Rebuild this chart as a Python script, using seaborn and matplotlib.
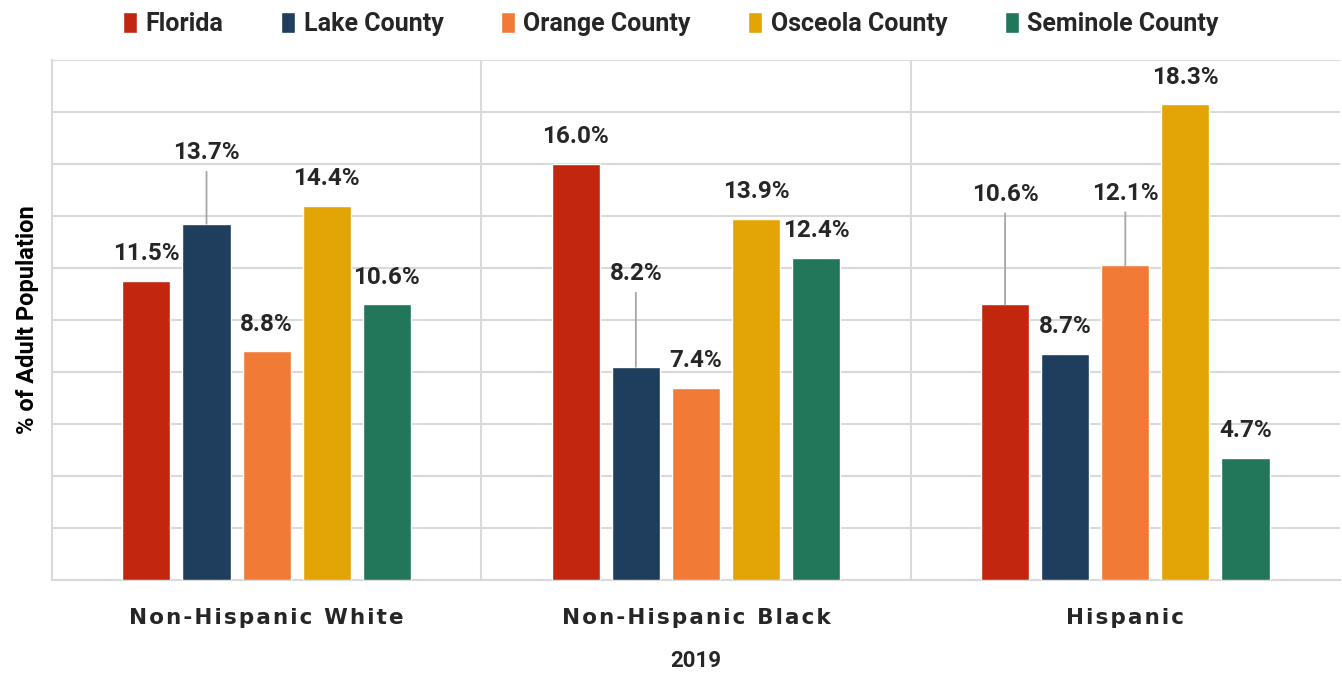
import matplotlib.pyplot as plt
import seaborn as sns
import pandas as pd

# data
groups = ['Non-Hispanic White', 'Non-Hispanic Black', 'Hispanic']
areas = ['Florida', 'Lake County', 'Orange County', 'Osceola County', 'Seminole County']
florida = [11.5, 16.0, 10.6]
lake = [13.7, 8.2, 8.7]
orange = [8.8, 7.4, 12.1]
osceola = [14.4, 13.9, 18.3]
seminole = [10.6, 12.4, 4.7]

colors = ['#C3260E', '#1F3D5C', '#F27A37', '#E3A506', '#22765A']

# extra lift (pixels) of labels that sit on a leader line
label_lift = {('Lake County', 'Non-Hispanic White'): 44,
              ('Lake County', 'Non-Hispanic Black'): 66,
              ('Florida', 'Hispanic'): 83,
              ('Orange County', 'Hispanic'): 45}

rows = []
for area, vals in zip(areas, [florida, lake, orange, osceola, seminole]):
    for g, v in zip(groups, vals):
        rows.append({'group': g, 'area': area, 'value': v})
df = pd.DataFrame(rows)

sns.set_style('white')
plt.rcParams['font.family'] = ['Roboto', 'DejaVu Sans']

fig = plt.figure(figsize=(13.42, 6.73), dpi=100)
ax = fig.add_axes([0.0387, 0.138, 0.9598, 0.773])

sns.barplot(data=df, x='group', y='value', hue='area', order=groups,
            hue_order=areas, palette=colors, width=0.7, gap=0.2,
            saturation=1, ax=ax, zorder=3)

ax.set_ylim(0, 20)
ax.set_xlim(-0.5, 2.5)
ax.set_yticks(range(0, 21, 2))
ax.set_yticklabels([])
ax.tick_params(axis='both', length=0)
ax.grid(axis='y', color='#d9d9d9', linewidth=1.5, zorder=0)
for x in [0.5, 1.5]:
    ax.axvline(x, color='#d9d9d9', linewidth=1.5, zorder=0)
for side in ['top', 'right']:
    ax.spines[side].set_visible(False)
for side in ['left', 'bottom']:
    ax.spines[side].set_color('#d9d9d9')
    ax.spines[side].set_linewidth(1.5)

# the reference tick labels are letter-spaced
spaced = ['\u200a'.join(g) for g in groups]
ax.set_xticks(range(len(groups)))
ax.set_xticklabels(spaced, fontsize=15.5, fontweight='bold', color='#262626',
                   family='DejaVu Sans')
ax.tick_params(axis='x', pad=20)
ax.set_xlabel('2019', fontsize=16, fontweight='bold', color='#262626', labelpad=16)
ax.set_ylabel('% of Adult Population', fontsize=17, fontweight='bold',
              color='#000000', labelpad=6)

# data labels
for area, cont in zip(areas, ax.containers):
    for g, bar in zip(groups, cont):
        h = bar.get_height()
        cx = bar.get_x() + bar.get_width() / 2
        lift = label_lift.get((area, g), 0)
        arrow = None
        if lift:
            arrow = dict(arrowstyle='-', color='#a6a6a6', lw=1.3,
                         shrinkA=3, shrinkB=0)
        ax.annotate(f'{h:.1f}%', xy=(cx, h), xytext=(0, 27 + lift),
                    textcoords='offset pixels', ha='center', va='center',
                    fontsize=17.5, fontweight='bold', color='#262626',
                    arrowprops=arrow, zorder=4)

sns.move_legend(ax, 'upper center', bbox_to_anchor=(0.5, 1.015),
                bbox_transform=fig.transFigure, ncol=5, frameon=False,
                title=None, fontsize=18, handlelength=0.55, handleheight=0.9,
                handletextpad=0.35, columnspacing=2.3)
for t in ax.get_legend().get_texts():
    t.set_fontweight('bold')
    t.set_color('#262626')

fig.savefig('out.png', dpi=100)
